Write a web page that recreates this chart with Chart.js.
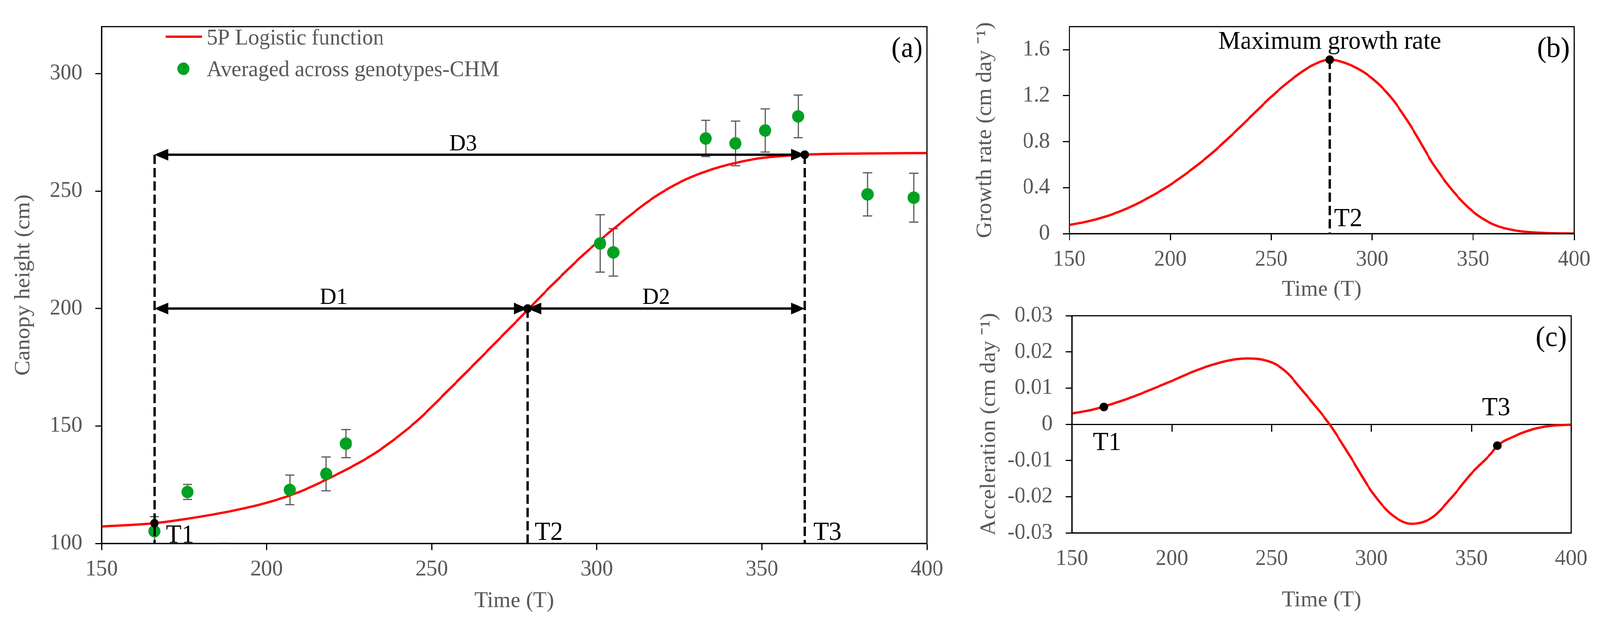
<!DOCTYPE html>
<html>
<head>
<meta charset="utf-8">
<title>Canopy height growth curve</title>
<script src="https://cdn.jsdelivr.net/npm/chart.js@4.4.1/dist/chart.umd.min.js"></script>
<style>
  html, body { margin: 0; padding: 0; background: #fff; overflow: hidden; }
  #page { position: relative; width: 4203px; height: 1587px; overflow: hidden; background: #fff; transform-origin: 0 0; }
  canvas { position: absolute; }
</style>
</head>
<body>
<div id="page">
  <canvas id="heightChart" width="2540" height="1587" style="left:0;top:0"></canvas>
  <canvas id="rateChart" width="1663" height="800" style="left:2540px;top:0"></canvas>
  <canvas id="accelChart" width="1663" height="847" style="left:2540px;top:740px"></canvas>
</div>
<script>
// tick labels
const dayTicks = [150, 200, 250, 300, 350, 400];
const heightTicks = [100, 150, 200, 250, 300];
const rateTicks = [0, 0.4, 0.8, 1.2, 1.6];
const accelTicks = [-0.03, -0.02, -0.01, 0, 0.01, 0.02, 0.03];

// canopy height averaged across genotypes (cm), with error bars
const obsDays = [166, 176, 187, 207, 218, 224, 301, 305, 333, 342, 351, 361, 382, 396];
const obsHeight = [105.2, 121.9, 92, 122.8, 129.6, 142.5, 227.7, 223.9, 272.4, 270.3, 275.8, 281.8, 248.6, 247.2];
const obsError = [6.2, 3.2, 8, 6.3, 7.2, 6, 12.2, 10.1, 7.7, 9.5, 9.2, 9.1, 9.2, 10.4];

// fitted 5P logistic curve
const fitDays = [150, 166, 175, 190, 200, 210, 220, 230, 235, 245, 255, 265, 279, 286, 296, 306, 315, 320, 327, 335, 340, 350, 363, 380, 400];
const fitHeight = [107.2, 108.6, 110.3, 114.0, 117.3, 122.0, 128.5, 136.0, 140.5, 151.5, 165.2, 179.3, 199.3, 209.4, 223.0, 235.0, 245.0, 249.7, 255.0, 259.3, 261.3, 264.1, 265.5, 266.0, 266.2];

// growth rate (first derivative)
const rateDays = [150, 160, 170, 180, 190, 200, 210, 220, 230, 240, 250, 260, 270, 279, 290, 300, 310, 320, 330, 340, 350, 360, 370, 380, 390, 400];
const rateValues = [0.075, 0.11, 0.16, 0.23, 0.32, 0.425, 0.55, 0.69, 0.85, 1.02, 1.19, 1.34, 1.46, 1.513, 1.46, 1.35, 1.17, 0.91, 0.61, 0.37, 0.19, 0.08, 0.03, 0.01, 0.003, 0.001];

// acceleration (second derivative)
const accelDays = [150, 160, 170, 180, 190, 200, 210, 220, 230, 238, 245, 252, 258, 265, 270, 279, 290, 300, 310, 320, 330, 340, 350, 360, 363, 370, 380, 390, 400];
const accelValues = [0.0030, 0.0040, 0.0056, 0.0075, 0.0097, 0.0120, 0.0144, 0.0164, 0.0178, 0.0182, 0.0179, 0.0166, 0.0141, 0.0096, 0.0063, 0, -0.0095, -0.0185, -0.0249, -0.0275, -0.0259, -0.0203, -0.0136, -0.0080, -0.0059, -0.0037, -0.0015, -0.0004, -0.0001];

// key time points
const keyDays = [166, 279, 363];           // T1, T2, T3
const keyHeight = [108.6, 200, 265.5];
const maxRate = 1.513;
const keyAccel = [0.0048, -0.0059];       // at T1 and T3

const FONT = "'Liberation Serif', 'Times New Roman', serif";
const GREY = '#595959';
const RED = '#ff0000';
const GREEN = '#00a123';

// the viewport may be narrower than 4203px: stretch the drawing to fill it
const page = document.getElementById('page');
page.style.transform = 'scale(' + (window.innerWidth / 4203) + ',' + (window.innerHeight / 1587) + ')';

Chart.defaults.font.family = FONT;
Chart.defaults.color = GREY;
Chart.defaults.animation = false;

const pts = (xs, ys) => xs.map((x, i) => ({x: x, y: ys[i]}));
const label = v => String(v);

function xAxis(height, titlePad, withTicks) {
  return {
    type: 'linear', min: 150, max: 400,
    afterBuildTicks: s => { s.ticks = dayTicks.map(v => ({value: v})); },
    afterFit: s => { s.height = height; },
    grid: {drawOnChartArea: false, drawTicks: withTicks, tickLength: 17, tickWidth: 3, tickColor: '#000'},
    border: {color: '#000', width: 3},
    ticks: {color: GREY, font: {size: 57}, padding: withTicks ? 16 : 33, maxRotation: 0, callback: label},
    title: {display: true, text: 'Time (T)', color: GREY, font: {size: 58}, padding: {top: 0, bottom: titlePad}}
  };
}

function yAxis(min, max, tickList, width, title, titlePad) {
  return {
    type: 'linear', min: min, max: max,
    afterBuildTicks: s => { s.ticks = tickList.map(v => ({value: v})); },
    afterFit: s => { s.width = width; },
    grid: {drawOnChartArea: false, tickLength: 17, tickWidth: 3, tickColor: '#000'},
    border: {color: '#000', width: 3},
    ticks: {color: GREY, font: {size: 57}, padding: 34, callback: label},
    title: {display: true, text: title, color: GREY, font: {size: 58}, padding: {top: titlePad, bottom: 0}}
  };
}

function dashedLine(ctx, x, y1, y2) {
  ctx.save();
  ctx.strokeStyle = '#000';
  ctx.lineWidth = 6;
  ctx.setLineDash([24, 10]);
  ctx.beginPath();
  ctx.moveTo(x, y1);
  ctx.lineTo(x, y2);
  ctx.stroke();
  ctx.restore();
}

function arrow(ctx, x1, x2, y) {
  const len = 36, half = 15;
  ctx.save();
  ctx.strokeStyle = '#000';
  ctx.fillStyle = '#000';
  ctx.lineWidth = 6;
  ctx.beginPath();
  ctx.moveTo(x1 + len / 2, y);
  ctx.lineTo(x2 - len / 2, y);
  ctx.stroke();
  ctx.beginPath();
  ctx.moveTo(x1, y); ctx.lineTo(x1 + len, y - half); ctx.lineTo(x1 + len, y + half); ctx.closePath();
  ctx.moveTo(x2, y); ctx.lineTo(x2 - len, y - half); ctx.lineTo(x2 - len, y + half); ctx.closePath();
  ctx.fill();
  ctx.restore();
}

function text(ctx, str, x, y, size, align, color) {
  ctx.save();
  ctx.font = size + 'px ' + FONT;
  ctx.fillStyle = color || '#000';
  ctx.textAlign = align || 'left';
  ctx.textBaseline = 'alphabetic';
  ctx.fillText(str, x, y);
  ctx.restore();
}

// box around plot area and the panel letter
function framePlugin(letter) {
  return {
    id: 'frame',
    afterDraw(chart) {
      const {ctx, chartArea: a} = chart;
      ctx.save();
      ctx.strokeStyle = '#000';
      ctx.lineWidth = 3;
      ctx.strokeRect(a.left, a.top, a.right - a.left, a.bottom - a.top);
      ctx.font = '74px ' + FONT;
      ctx.fillStyle = '#000';
      ctx.textAlign = 'right';
      ctx.textBaseline = 'middle';
      ctx.fillText(letter, a.right - 11, a.top + 58);
      ctx.restore();
    }
  };
}

const errorBars = {
  id: 'errorBars',
  beforeDatasetsDraw(chart) {
    const {ctx, chartArea: a, scales: {x, y}} = chart;
    ctx.save();
    ctx.beginPath();
    ctx.rect(a.left, a.top, a.right - a.left, a.bottom - a.top + 2);
    ctx.clip();
    ctx.strokeStyle = GREY;
    ctx.lineWidth = 3;
    obsDays.forEach((d, i) => {
      const px = x.getPixelForValue(d);
      const top = y.getPixelForValue(obsHeight[i] + obsError[i]);
      const bot = y.getPixelForValue(obsHeight[i] - obsError[i]);
      ctx.beginPath();
      ctx.moveTo(px, top); ctx.lineTo(px, bot);
      ctx.moveTo(px - 12, top); ctx.lineTo(px + 12, top);
      ctx.moveTo(px - 12, bot); ctx.lineTo(px + 12, bot);
      ctx.stroke();
    });
    ctx.restore();
  }
};

const heightMarks = {
  id: 'heightMarks',
  afterDatasetsDraw(chart) {
    const {ctx, chartArea: a, scales: {x, y}} = chart;
    const [t1, t2, t3] = keyDays.map(d => x.getPixelForValue(d));
    const yD3 = y.getPixelForValue(keyHeight[2]);
    const yD12 = y.getPixelForValue(keyHeight[1]);
    dashedLine(ctx, t1, yD3, a.bottom);
    dashedLine(ctx, t2, yD12, a.bottom);
    dashedLine(ctx, t3, yD3, a.bottom);
    arrow(ctx, t1, t3, yD3);
    arrow(ctx, t1, t2, yD12);
    arrow(ctx, t2, t3, yD12);
    text(ctx, 'D3', x.getPixelForValue(259.5), yD3 - 11, 60, 'center');
    text(ctx, 'D1', x.getPixelForValue(220.3), yD12 - 12, 60, 'center');
    text(ctx, 'D2', x.getPixelForValue(318), yD12 - 12, 60, 'center');
    text(ctx, 'T1', t1 + 30, a.bottom - 2, 67);
    text(ctx, 'T2', t2 + 19, a.bottom - 9, 67);
    text(ctx, 'T3', t3 + 22, a.bottom - 9, 67);

    // legend
    ctx.save();
    ctx.strokeStyle = RED;
    ctx.lineWidth = 6;
    ctx.beginPath();
    ctx.moveTo(435, 94); ctx.lineTo(530, 94);
    ctx.stroke();
    ctx.fillStyle = GREEN;
    ctx.beginPath();
    ctx.arc(482, 176, 16, 0, Math.PI * 2);
    ctx.fill();
    ctx.restore();
    text(ctx, chart.data.datasets[2].label, 543, 114, 57, 'left', GREY);
    text(ctx, chart.data.datasets[1].label, 543, 195, 57, 'left', GREY);
  }
};

new Chart(document.getElementById('heightChart'), {
  type: 'scatter',
  data: {
    datasets: [
      {
        label: 'Key points',
        data: pts(keyDays, keyHeight),
        pointRadius: 11,
        backgroundColor: '#000',
        borderWidth: 0
      },
      {
        label: 'Averaged across genotypes-CHM',
        data: pts(obsDays, obsHeight),
        pointRadius: 16,
        backgroundColor: GREEN,
        borderWidth: 0
      },
      {
        type: 'line',
        label: '5P Logistic function',
        data: pts(fitDays, fitHeight),
        borderColor: RED,
        borderWidth: 6,
        pointRadius: 0,
        cubicInterpolationMode: 'monotone'
      }
    ]
  },
  options: {
    responsive: false,
    devicePixelRatio: 1,
    events: [],
    layout: {autoPadding: false, padding: {top: 46, right: 105, left: 0, bottom: 0}},
    scales: {
      x: xAxis(196, 13, true),
      y: yAxis(100, 320, heightTicks, 267, 'Canopy height (cm)', 27)
    },
    plugins: {legend: {display: false}, tooltip: {enabled: false}}
  },
  plugins: [errorBars, heightMarks, framePlugin('(a)')]
});

const rateMarks = {
  id: 'rateMarks',
  afterDatasetsDraw(chart) {
    const {ctx, chartArea: a, scales: {x, y}} = chart;
    const t2 = x.getPixelForValue(keyDays[1]);
    dashedLine(ctx, t2, y.getPixelForValue(maxRate), a.bottom);
    text(ctx, 'Maximum growth rate', t2, a.top + 57, 65, 'center');
    text(ctx, 'T2', t2 + 11, a.bottom - 19, 67);
  }
};

new Chart(document.getElementById('rateChart'), {
  type: 'scatter',
  data: {
    datasets: [
      {
        label: 'Maximum growth rate',
        data: [{x: keyDays[1], y: maxRate}],
        pointRadius: 11,
        backgroundColor: '#000',
        borderWidth: 0
      },
      {
        type: 'line',
        label: 'Growth rate',
        data: pts(rateDays, rateValues),
        borderColor: RED,
        borderWidth: 6,
        pointRadius: 0,
        cubicInterpolationMode: 'monotone'
      }
    ]
  },
  options: {
    responsive: false,
    devicePixelRatio: 1,
    events: [],
    layout: {autoPadding: false, padding: {top: 23, right: 68, left: 0, bottom: 0}},
    scales: {
      x: xAxis(202, 23, true),
      y: yAxis(0, 1.8, rateTicks, 269, 'Growth rate (cm day \u207B\u00B9)', 13)
    },
    plugins: {legend: {display: false}, tooltip: {enabled: false}}
  },
  plugins: [rateMarks, framePlugin('(b)')]
});

const accelMarks = {
  id: 'accelMarks',
  afterDatasetsDraw(chart) {
    const {ctx, scales: {x, y}} = chart;
    const y0 = y.getPixelForValue(0);
    text(ctx, 'T1', x.getPixelForValue(keyDays[0]) + 8, y0 + 66, 67, 'center');
    text(ctx, 'T3', x.getPixelForValue(keyDays[2]) - 3, y0 - 23, 67, 'center');
  }
};

const zeroAxis = xAxis(0, 0, true);
zeroAxis.position = {y: 0};
zeroAxis.ticks = {display: false};
zeroAxis.title = {display: false};

new Chart(document.getElementById('accelChart'), {
  type: 'scatter',
  data: {
    datasets: [
      {
        label: 'T1 and T3',
        data: pts([keyDays[0], keyDays[2]], keyAccel),
        pointRadius: 11,
        backgroundColor: '#000',
        borderWidth: 0
      },
      {
        type: 'line',
        label: 'Acceleration',
        data: pts(accelDays, accelValues),
        borderColor: RED,
        borderWidth: 6,
        pointRadius: 0,
        cubicInterpolationMode: 'monotone'
      }
    ]
  },
  options: {
    responsive: false,
    devicePixelRatio: 1,
    events: [],
    layout: {autoPadding: false, padding: {top: 51, right: 65, left: 0, bottom: 0}},
    scales: {
      x: xAxis(223, 15, false),
      x0: zeroAxis,
      y: yAxis(-0.03, 0.03, accelTicks, 276, 'Acceleration (cm day \u207B\u00B9)', 24)
    },
    plugins: {legend: {display: false}, tooltip: {enabled: false}}
  },
  plugins: [accelMarks, framePlugin('(c)')]
});
</script>
</body>
</html>
